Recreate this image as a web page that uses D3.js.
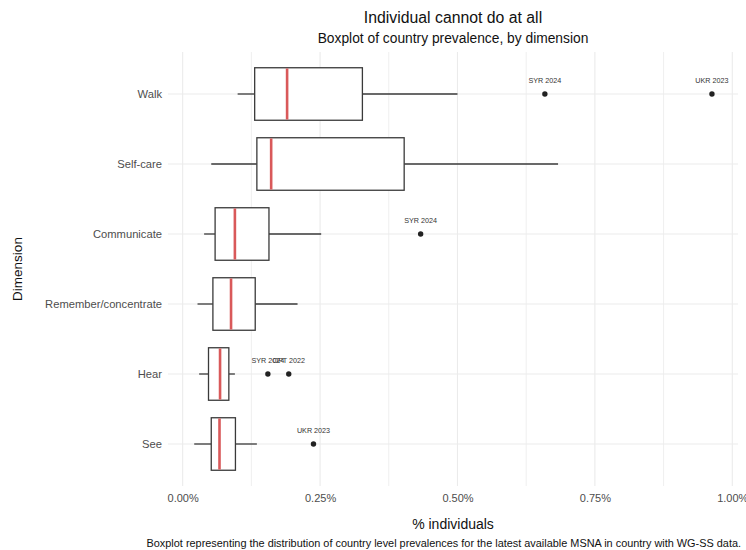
<!DOCTYPE html>
<html>
<head>
<meta charset="utf-8">
<script src="https://cdn.jsdelivr.net/npm/d3@7"></script>
<style>
  html, body { margin: 0; padding: 0; background: #fff; }
  svg { display: block; font-family: "Liberation Sans", Arial, sans-serif; }
</style>
</head>
<body>
<svg id="chart" width="746" height="550"></svg>
<script>
// Dimensions, top to bottom
const dimensions = ["Walk", "Self-care", "Communicate", "Remember/concentrate", "Hear", "See"];

// Five-number summaries per dimension (share of individuals)
const lowerWhisker = [0.00100, 0.00052, 0.00039, 0.00027, 0.00030, 0.00021];
const q1           = [0.00131, 0.00135, 0.00059, 0.00055, 0.00047, 0.00052];
const median       = [0.00190, 0.00161, 0.00095, 0.00088, 0.00068, 0.00067];
const q3           = [0.00327, 0.00403, 0.00157, 0.00132, 0.00084, 0.00096];
const upperWhisker = [0.00500, 0.00683, 0.00252, 0.00209, 0.00095, 0.00135];

// Outlying countries
const outlierDimension = ["Walk", "Walk", "Communicate", "Hear", "Hear", "See"];
const outlierValue     = [0.00659, 0.00963, 0.00433, 0.00155, 0.00193, 0.00238];
const outlierLabel     = ["SYR 2024", "UKR 2023", "SYR 2024", "SYR 2024", "OPT 2022", "UKR 2023"];

const xTicks = [0, 0.0025, 0.005, 0.0075, 0.01];
const xMinor = [0.00125, 0.00375, 0.00625, 0.00875];

const svg = d3.select("#chart");
const panel = { left: 168, right: 738, top: 52, bottom: 486 };

const x = d3.scaleLinear()
  .domain([-0.000267, 0.010104])
  .range([panel.left, panel.right]);

const y = d3.scalePoint()
  .domain(dimensions)
  .range([panel.top, panel.bottom])
  .padding(0.6);

const step = y.step();
const boxH = step * 0.75;

const gridColor = "#ebebeb";
const tickColor = "#4d4d4d";
const lineColor = "#3a3a3a";

// Grid
const grid = svg.append("g");
grid.selectAll("line.vmin").data(xMinor).join("line")
  .attr("x1", d => x(d)).attr("x2", d => x(d))
  .attr("y1", panel.top).attr("y2", panel.bottom)
  .attr("stroke", gridColor).attr("stroke-width", 0.8);
grid.selectAll("line.vmaj").data(xTicks).join("line")
  .attr("x1", d => x(d)).attr("x2", d => x(d))
  .attr("y1", panel.top).attr("y2", panel.bottom)
  .attr("stroke", gridColor).attr("stroke-width", 1.1);
grid.selectAll("line.h").data(dimensions).join("line")
  .attr("x1", panel.left).attr("x2", panel.right)
  .attr("y1", d => y(d)).attr("y2", d => y(d))
  .attr("stroke", gridColor).attr("stroke-width", 1.1);

// Axes (labels only, no domain line or ticks)
const xAxis = svg.append("g")
  .attr("transform", `translate(0,${panel.bottom})`)
  .call(d3.axisBottom(x).tickValues(xTicks).tickFormat(d3.format(".2%")).tickSize(0).tickPadding(8));
xAxis.select(".domain").remove();
xAxis.selectAll("text").attr("fill", tickColor).attr("font-size", 11)
  .attr("font-family", "Liberation Sans, Arial, sans-serif");

const yAxis = svg.append("g")
  .attr("transform", `translate(${panel.left},0)`)
  .call(d3.axisLeft(y).tickSize(0).tickPadding(6));
yAxis.select(".domain").remove();
yAxis.selectAll("text").attr("fill", tickColor).attr("font-size", 11.2)
  .attr("font-family", "Liberation Sans, Arial, sans-serif");

// Boxplots
const rows = dimensions.map((d, i) => ({
  dim: d, lw: lowerWhisker[i], q1: q1[i], med: median[i], q3: q3[i], uw: upperWhisker[i]
}));

const boxes = svg.append("g").selectAll("g").data(rows).join("g");
boxes.append("line")
  .attr("x1", d => x(d.lw)).attr("x2", d => x(d.q1))
  .attr("y1", d => y(d.dim)).attr("y2", d => y(d.dim))
  .attr("stroke", lineColor).attr("stroke-width", 1.3);
boxes.append("line")
  .attr("x1", d => x(d.q3)).attr("x2", d => x(d.uw))
  .attr("y1", d => y(d.dim)).attr("y2", d => y(d.dim))
  .attr("stroke", lineColor).attr("stroke-width", 1.3);
boxes.append("rect")
  .attr("x", d => x(d.q1)).attr("width", d => x(d.q3) - x(d.q1))
  .attr("y", d => y(d.dim) - boxH / 2).attr("height", boxH)
  .attr("fill", "#fff").attr("stroke", lineColor).attr("stroke-width", 1.3);
boxes.append("line")
  .attr("x1", d => x(d.med)).attr("x2", d => x(d.med))
  .attr("y1", d => y(d.dim) - boxH / 2 + 0.7).attr("y2", d => y(d.dim) + boxH / 2 - 0.7)
  .attr("stroke", "#d9595a").attr("stroke-width", 2.6);

// Outliers with country labels
const outliers = outlierValue.map((v, i) => ({ dim: outlierDimension[i], v, label: outlierLabel[i] }));
const og = svg.append("g");
og.selectAll("circle").data(outliers).join("circle")
  .attr("cx", d => x(d.v)).attr("cy", d => y(d.dim)).attr("r", 2.7)
  .attr("fill", "#222");
og.selectAll("text").data(outliers).join("text")
  .attr("x", d => x(d.v)).attr("y", d => y(d.dim) - 11)
  .attr("text-anchor", "middle").attr("font-size", 7.2)
  .attr("fill", "#333")
  .text(d => d.label);

// Titles
const cx = (panel.left + panel.right) / 2;
svg.append("text").attr("x", 453).attr("y", 23)
  .attr("text-anchor", "middle").attr("font-size", 15.8).attr("fill", "#111")
  .text("Individual cannot do at all");
svg.append("text").attr("x", 453).attr("y", 43)
  .attr("text-anchor", "middle").attr("font-size", 13.8).attr("fill", "#111")
  .text("Boxplot of country prevalence, by dimension");

svg.append("text").attr("x", cx).attr("y", 529)
  .attr("text-anchor", "middle").attr("font-size", 14).attr("fill", "#111")
  .text("% individuals");

svg.append("text")
  .attr("transform", `translate(22,${(panel.top + panel.bottom) / 2}) rotate(-90)`)
  .attr("text-anchor", "middle").attr("font-size", 13.5).attr("fill", "#111")
  .text("Dimension");

svg.append("text").attr("x", 741).attr("y", 547)
  .attr("text-anchor", "end").attr("font-size", 10.9).attr("fill", "#111")
  .text("Boxplot representing the distribution of country level prevalences for the latest available MSNA in country with WG-SS data.");
</script>
</body>
</html>
